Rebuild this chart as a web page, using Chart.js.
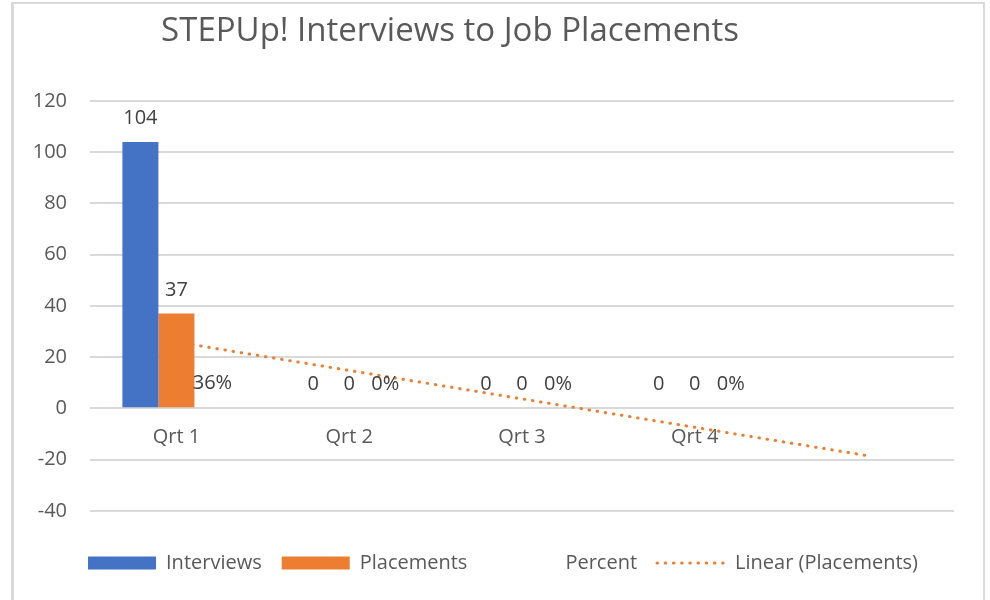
<!DOCTYPE html>
<html>
<head>
<meta charset="utf-8">
<script src="https://cdn.jsdelivr.net/npm/chart.js@4"></script>
<style>
    html, body { margin: 0; padding: 0; background: #fff; }
    #wrap { position: relative; width: 990px; height: 600px; overflow: hidden; }
    #frame {
        position: absolute; left: 11px; top: 2px; width: 974px; height: 640px;
        border: 2px solid #d9d9d9; border-left-width: 3px; box-sizing: border-box;
    }
    #title {
        position: absolute; left: 0; top: 6px; width: 900px; text-align: center;
        font-family: "Open Sans", Lato, sans-serif; font-size: 33px; color: #595959;
    }
    canvas { position: absolute; left: 0; top: 0; }
</style>
</head>
<body>
<div id="wrap">
    <div id="frame"></div>
    <canvas id="chart" width="990" height="600"></canvas>
    <div id="title">STEPUp! Interviews to Job Placements</div>
</div>
<script>
const quarters = ["Qrt 1", "Qrt 2", "Qrt 3", "Qrt 4", ""];
const interviews = [104, 0, 0, 0, null];
const placements = [37, 0, 0, 0, null];
const percent = [0.36, 0, 0, 0, null];
// dotted trendline
const linearPlacements = [25.9, 14.8, 3.7, -7.4, -18.5];
const yTicks = [-40, -20, 0, 20, 40, 60, 80, 100, 120];

const FONT = "'Open Sans', Lato, sans-serif";
const TEXT = "#595959";

const dataLabels = {
    id: "dataLabels",
    afterDatasetsDraw(chart) {
        const ctx = chart.ctx;
        ctx.save();
        ctx.font = "20px " + FONT;
        ctx.fillStyle = "#404040";
        ctx.textAlign = "center";
        ctx.textBaseline = "alphabetic";
        chart.data.datasets.forEach((ds, i) => {
            if (ds.type === "line") return;
            const meta = chart.getDatasetMeta(i);
            meta.data.forEach((bar, j) => {
                const v = ds.data[j];
                if (v === null || v === undefined) return;
                const txt = ds.isPercent ? Math.round(v * 100) + "%" : String(v);
                ctx.fillText(txt, bar.x, Math.min(bar.y, bar.base) - 18);
            });
        });
        ctx.restore();
    }
};

// the legend sits a bit right of centre in the original
const legendShift = {
    id: "legendShift",
    afterLayout(chart) {
        chart.legend.left += 26;
        chart.legend.right += 26;
    }
};

const chart = new Chart(document.getElementById("chart").getContext("2d"), {
    type: "bar",
    data: {
        labels: quarters,
        datasets: [
            { label: "Interviews", data: interviews, backgroundColor: "#4472C4", order: 2 },
            { label: "Placements", data: placements, backgroundColor: "#ED7D31", order: 2 },
            { label: "Percent", data: percent, backgroundColor: "rgba(0,0,0,0)", isPercent: true, order: 2 },
            {
                type: "line", label: "Linear (Placements)", data: linearPlacements,
                borderColor: "#ED7D31", borderWidth: 3, borderDash: [0.5, 7.7], borderCapStyle: "round",
                pointRadius: 0, fill: false, tension: 0, order: 1
            },
        ],
    },
    options: {
        responsive: false,
        animation: false,
        categoryPercentage: 0.625,
        barPercentage: 1,
        layout: { padding: { top: 101, right: 36, bottom: 17, left: 0 } },
        plugins: {
            title: { display: false },
            tooltip: { enabled: false },
            legend: {
                position: "bottom",
                title: { display: true, text: "", font: { size: 1 }, padding: { top: 21, bottom: 0 } },
                labels: {
                    usePointStyle: true,
                    pointStyleWidth: 68,
                    boxHeight: 13,
                    padding: 20,
                    color: TEXT,
                    font: { family: FONT, size: 20 },
                    generateLabels: (ch) => ch.data.datasets.map((ds, i) => {
                        const isLine = ds.type === "line";
                        return {
                            text: ds.label,
                            datasetIndex: i,
                            fontColor: TEXT,
                            fillStyle: isLine ? "rgba(0,0,0,0)" : ds.backgroundColor,
                            strokeStyle: isLine ? ds.borderColor : "rgba(0,0,0,0)",
                            lineWidth: isLine ? 3 : 0,
                            lineDash: isLine ? [0.5, 7.7] : [],
                            lineCap: isLine ? "round" : "butt",
                            pointStyle: isLine ? "line" : "rect",
                            hidden: false,
                        };
                    }),
                },
            },
        },
        scales: {
            x: {
                position: { y: 0 },
                grid: { display: false, drawTicks: false },
                border: { display: false },
                ticks: { color: TEXT, font: { family: FONT, size: 20 }, padding: 17 },
            },
            y: {
                min: -40,
                max: 120,
                afterBuildTicks: (scale) => { scale.ticks = yTicks.map(v => ({ value: v })); },
                afterFit: (scale) => { scale.width = 90; },
                grid: { color: "#d9d9d9", lineWidth: 2, drawTicks: false },
                border: { display: false },
                ticks: { color: TEXT, font: { family: FONT, size: 20 }, padding: 23 },
            },
        },
    },
    plugins: [dataLabels, legendShift],
});
</script>
</body>
</html>
